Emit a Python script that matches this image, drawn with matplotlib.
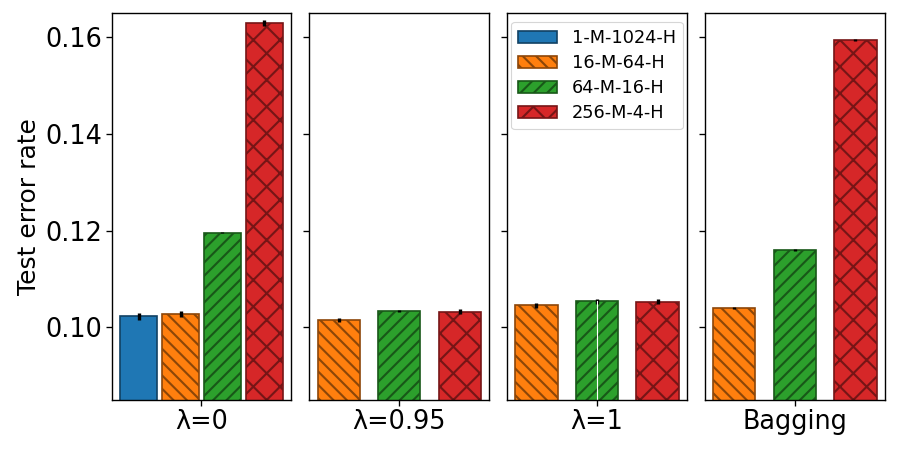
import numpy as np
import matplotlib
matplotlib.use("Agg")
import matplotlib.pyplot as plt
from matplotlib.colors import to_rgb

# data
panel_names = ["λ=0", "λ=0.95", "λ=1", "Bagging"]
models = ["1-M-1024-H", "16-M-64-H", "64-M-16-H", "256-M-4-H"]
colors = ["#1f77b4", "#ff7f0e", "#2ca02c", "#d62728"]
hatches = ["", "\\\\", "//", "x"]

# which models appear in each panel (index into models)
panel_models = [[0, 1, 2, 3], [1, 2, 3], [1, 2, 3], [1, 2, 3]]
panel_means = [
    [0.1023, 0.1028, 0.1196, 0.1630],
    [0.1015, 0.1034, 0.1033],
    [0.1046, 0.1054, 0.1053],
    [0.1041, 0.1161, 0.1595],
]
panel_errs = [
    [0.0007, 0.0007, 0.0001, 0.0006],
    [0.0004, 0.0003, 0.0005],
    [0.0005, 0.0005, 0.0005],
    [0.0002, 0.0002, 0.0002],
]

# dpi 80 so the hatch spacing comes out a bit denser, like the reference
plt.rcParams["hatch.linewidth"] = 1.9
plt.rcParams["axes.linewidth"] = 1.25
plt.rcParams["xtick.major.size"] = 5
plt.rcParams["ytick.major.size"] = 5
plt.rcParams["xtick.major.width"] = 1.2
plt.rcParams["ytick.major.width"] = 1.2


def darker(c, f=0.55):
    r, g, b = to_rgb(c)
    return (r * f, g * f, b * f)


fig, axes = plt.subplots(1, 4, figsize=(11.25, 5.625), dpi=80, sharey=True)
fig.subplots_adjust(left=0.124, right=0.983, top=0.971, bottom=0.111, wspace=0.1)

for p, ax in enumerate(axes):
    idx = panel_models[p]
    x = np.arange(len(idx))
    w = 0.9 if len(idx) == 4 else 0.7
    for j, m in enumerate(idx):
        ax.bar(x[j], panel_means[p][j], width=w, color=colors[m],
               edgecolor=darker(colors[m]), hatch=hatches[m], linewidth=1.5,
               label=models[m])
        ax.errorbar(x[j], panel_means[p][j], yerr=panel_errs[p][j],
                    color="black", elinewidth=3, capsize=0)
    ax.set_xticks([x.mean()])
    ax.set_xticklabels([panel_names[p]], fontsize=23)
    ax.tick_params(axis="y", labelsize=23)
    if p == 2:
        ax.axvline(1, ymin=0, ymax=(0.1054 - 0.085) / 0.08, color="white", lw=1)

axes[0].set_ylim(0.085, 0.165)
axes[0].set_yticks([0.10, 0.12, 0.14, 0.16])
axes[0].set_ylabel("Test error rate", fontsize=22.5)

handles, labels = axes[0].get_legend_handles_labels()
axes[2].legend(handles, labels, loc="upper center", fontsize=16,
               labelspacing=0.4, handlelength=2.2)

plt.savefig("out.png", dpi=80)
